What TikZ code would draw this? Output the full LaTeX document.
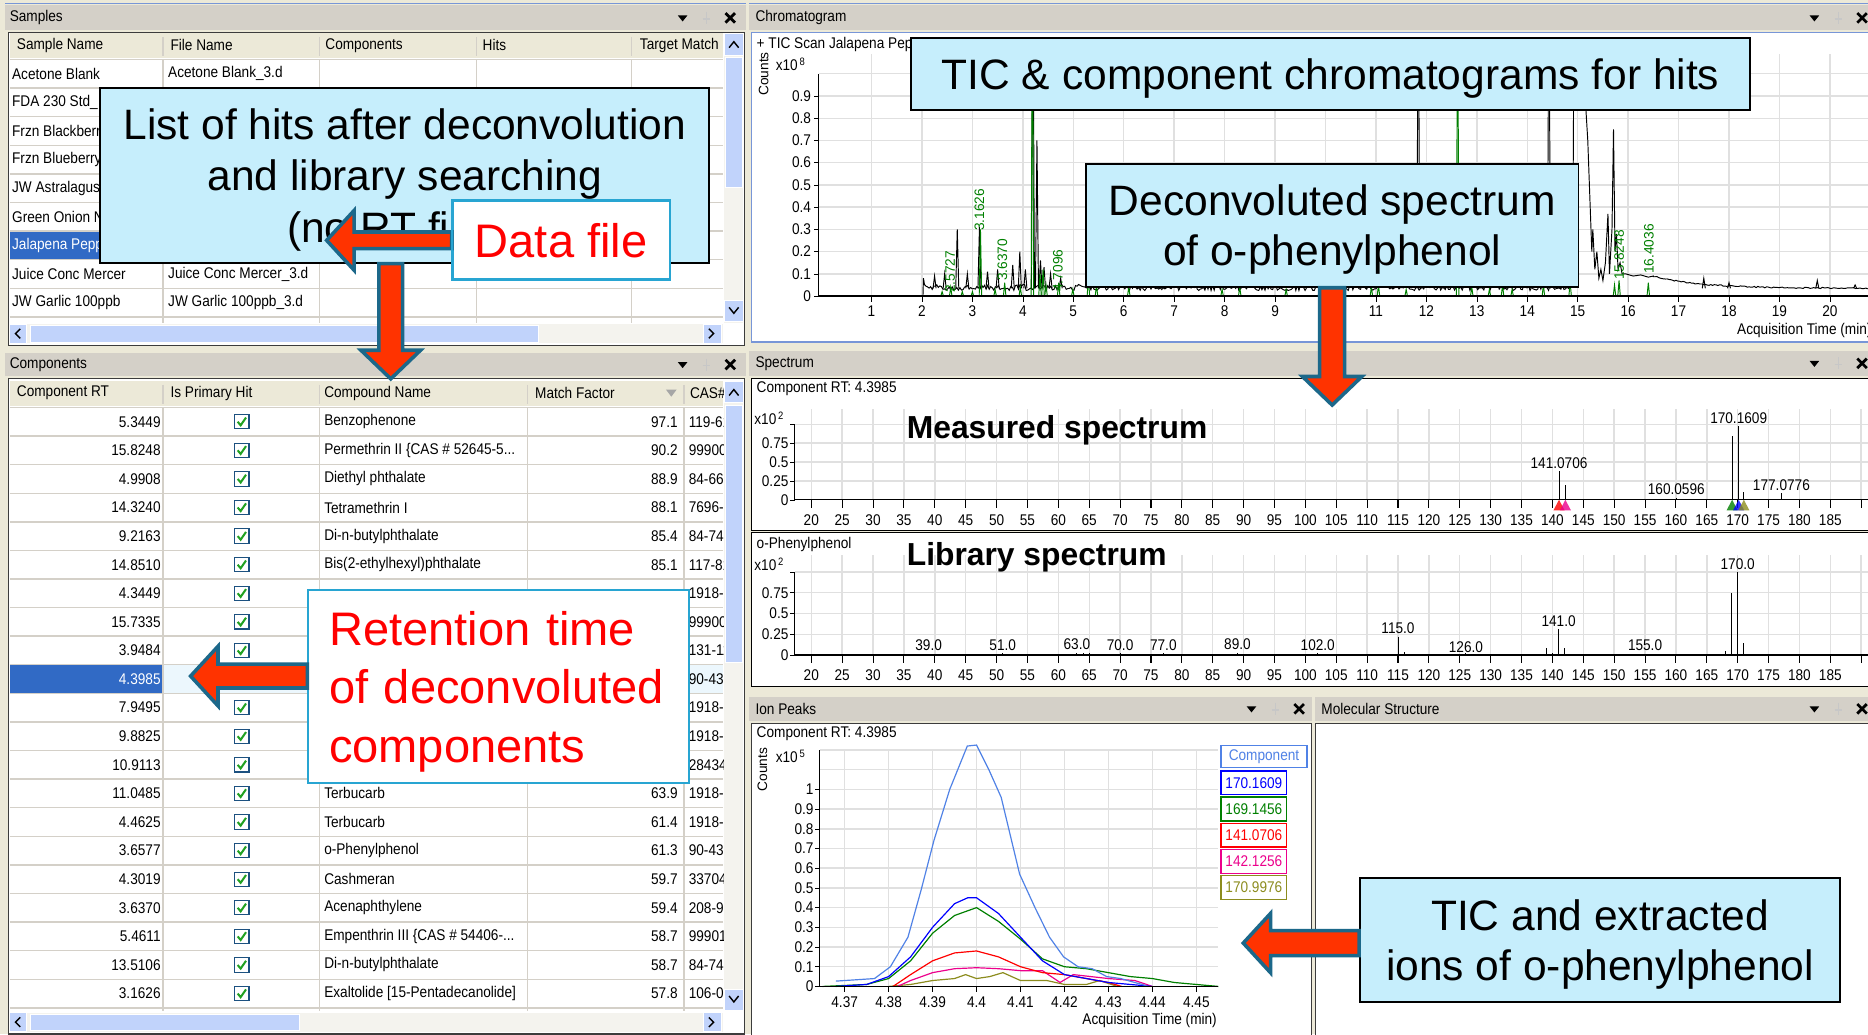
\documentclass[tikz,border=0pt]{standalone}
\usepackage{fontspec}
\setmainfont{Liberation Sans}
\newfontfamily\uifont[FakeStretch=0.88]{Liberation Sans}
\usetikzlibrary{positioning}

\definecolor{panelbg}{RGB}{236,233,216}
\definecolor{titlegray}{RGB}{212,208,200}
\definecolor{framegray}{RGB}{60,60,60}
\definecolor{frameblue}{RGB}{120,150,215}
\definecolor{gridgray}{RGB}{224,224,224}
\definecolor{rowline}{RGB}{212,208,200}
\definecolor{selblue}{RGB}{49,106,197}
\definecolor{selrow}{RGB}{236,247,253}
\definecolor{scrollthumb}{RGB}{193,211,251}
\definecolor{scrolltrack}{RGB}{244,243,238}
\definecolor{calloutblue}{RGB}{198,238,252}
\definecolor{calloutedge}{RGB}{40,165,210}
\definecolor{arrowred}{RGB}{255,51,0}
\definecolor{arrowedge}{RGB}{28,104,138}
\definecolor{chromgreen}{RGB}{0,128,0}
\definecolor{ioncomp}{RGB}{80,130,230}
\definecolor{ionolive}{RGB}{140,140,30}
\definecolor{checkgreen}{RGB}{33,161,33}
\definecolor{checkedge}{RGB}{28,81,128}

\tikzset{
  ui/.style={font=\uifont\fontsize{13}{15}\selectfont, inner sep=0pt},
  uiw/.style={ui, anchor=west},
  uie/.style={ui, anchor=east},
  pane/.style={fill=white, draw=framegray, line width=1pt},
  rowsep/.style={draw=rowline, line width=1.2pt},
  grid line/.style={draw=gridgray, line width=1.2pt},
  callout/.style={draw=black, line width=1.6pt, fill=calloutblue, inner sep=0pt, align=center, text depth=0pt,
    font=\fontsize{35.7}{43}\selectfont},
  redcallout/.style={draw=calloutedge, line width=1.6pt, fill=white, text=red, inner sep=0pt,
    font=\fontsize{39.5}{49}\selectfont},
  blockarrow/.style={draw=arrowedge, fill=arrowred, line width=3pt, line join=miter},
  rtlabel/.style={font=\fontsize{11.5}{13}\selectfont, text=chromgreen, rotate=90, anchor=west, inner sep=0pt},
  checkbox/.style={draw=checkedge, fill=white, line width=0.9pt, minimum size=12pt, inner sep=0pt},
  legendbox/.style={ui, draw, line width=1.2pt, minimum width=55pt, minimum height=20pt},
  titletext/.style={font=\bfseries\fontsize{26.7}{30}\selectfont, anchor=west, inner sep=0pt}
}

% title bar icons: #1 = x of close cross, #2 = y
\newcommand{\panelicons}[2]{%
  \fill (#1-44,#2-2) -- (#1-36,#2-2) -- (#1-40,#2+3) -- cycle;
  \draw[black!22, line width=1pt] (#1-20,#2-5) -- (#1-20,#2+1) (#1-23,#2+1) -- (#1-17,#2+1) (#1-20,#2+1) -- (#1-20,#2+5);
  \draw[line width=2.3pt] (#1-4,#2-4) -- (#1+4,#2+4) (#1-4,#2+4) -- (#1+4,#2-4);
}
\newcommand{\expo}[1]{x10\raisebox{4pt}{\fontsize{9}{9}\selectfont\,#1}}
% fat arrows: #1 tail, #2 tip, #3 half shaft
\newcommand{\blockleft}[3]{%
  \draw[blockarrow] (#2) -- ([shift={(23,-25)}]#2) -- ([shift={(23,-#3)}]#2) -- ([yshift=#3pt]#1)
    -- ([yshift=-#3pt]#1) -- ([shift={(23,#3)}]#2) -- ([shift={(23,25)}]#2) -- cycle;}
\newcommand{\blockdown}[3]{%
  \draw[blockarrow] (#2) -- ([shift={(-25,-24)}]#2) -- ([shift={(-#3,-24)}]#2) -- ([xshift=-#3pt]#1)
    -- ([xshift=#3pt]#1) -- ([shift={(#3,-24)}]#2) -- ([shift={(25,-24)}]#2) -- cycle;}

\begin{document}
\begin{tikzpicture}[x=1pt, y=-1pt]
  \useasboundingbox (0,0) rectangle (1568,868);
  \clip (0,0) rectangle (1568,868);
  \fill[panelbg] (0,0) rectangle (1568,868);

  %%% Samples panel
  \draw[frameblue, line width=1.5pt] (4,3) -- (626,3);
  \fill[titlegray] (4,4) rectangle (626,25);
  \node[uiw] (samplestitle) at (8,15) {Samples};
  \panelicons{613}{15}
  \draw[pane] (7,27) rectangle (625,290);
  \fill[panelbg] (8,28) rectangle (607,49);
  \foreach \x in {137,268,400,530} \draw[rowsep] (\x,31) -- (\x,47);
  \node[uiw] (hsname) at (14,38) {Sample Name};
  \node[uiw] (hfname) at (143,38) {File Name};
  \node[uiw] (hcomp) at (273,38) {Components};
  \node[uiw] (hhits) at (405,38) {Hits};
  \node[uiw] (htarget) at (537,38) {Target Match};
  \fill[selblue] (8,194) rectangle (137,218);
  \foreach \r in {0,...,9} \draw[rowsep] (8,50+24*\r) -- (607,50+24*\r);
  \foreach \x in {137,268,400,530} \draw[rowsep] (\x,50) -- (\x,271);
  \node[uiw] (s0) at (10,62) {Acetone Blank};
  \node[uiw] (s1) at (10,86) {FDA 230 Std\_};
  \node[uiw] (s2) at (10,110) {Frzn Blackberr};
  \node[uiw] (s3) at (10,134) {Frzn Blueberry};
  \node[uiw] (s4) at (10,158) {JW Astralagus};
  \node[uiw] (s5) at (10,182) {Green Onion N};
  \node[uiw, text=white] (s6) at (10,206) {Jalapena Pepp};
  \node[uiw] (s7) at (10,230) {Juice Conc Mercer};
  \node[uiw] (s8) at (10,254) {JW Garlic 100ppb};
  \node[uiw] (f0) at (141,62) {Acetone Blank\_3.d};
  \node[uiw] (f7) at (141,230) {Juice Conc Mercer\_3.d};
  \node[uiw] (f8) at (141,254) {JW Garlic 100ppb\_3.d};
  % scrollbars
  \fill[scrolltrack] (608,28) rectangle (624,271);
  \fill[scrollthumb, draw=white] (608,28) rectangle (624,46);
  \fill[scrollthumb, draw=white] (609,48) rectangle (623,157);
  \fill[scrollthumb, draw=white] (608,252) rectangle (624,270);
  \draw[line width=1.2pt] (612,40) -- (616,35) -- (620,40) (612,258) -- (616,263) -- (620,258);
  \fill[scrolltrack] (8,272) rectangle (607,288);
  \fill[scrollthumb, draw=white] (8,272) rectangle (22,288);
  \fill[scrollthumb, draw=white] (25,273) rectangle (452,287);
  \fill[scrollthumb, draw=white] (590,272) rectangle (605,288);
  \draw[line width=1.2pt] (17,276) -- (13,280) -- (17,284) (595,276) -- (599,280) -- (595,284);

  %%% Components panel
  \fill[titlegray] (4,296) rectangle (626,316);
  \node[uiw] (comptitle) at (8,306) {Components};
  \panelicons{613}{306}
  \draw[pane] (7,318) rectangle (625,868);
  \fill[panelbg] (8,320) rectangle (607,341);
  \foreach \x in {137,268,443,574} \draw[rowsep] (\x,323) -- (\x,339);
  \node[uiw] (hrt) at (14,330) {Component RT};
  \node[uiw] (hprim) at (143,330) {Is Primary Hit};
  \node[uiw] (hcname) at (272,330) {Compound Name};
  \node[uiw] (hmatch) at (449,330) {Match Factor};
  \fill[black!35] (559,327) -- (568,327) -- (563.5,333) -- cycle;
  \fill[selblue] (8,558) rectangle (137,582);
  \fill[selrow] (137,558) rectangle (607,582);
  \foreach \r in {0,...,21} \draw[rowsep] (8,342+24*\r) -- (607,342+24*\r);
  \foreach \x in {137,268,443,574} \draw[rowsep] (\x,342) -- (\x,849);
  \foreach \rt [count=\i from 0] in {5.3449,15.8248,4.9908,14.3240,9.2163,14.8510,4.3449,15.7335,3.9484,4.3985,
      7.9495,9.8825,10.9113,11.0485,4.4625,3.6577,4.3019,3.6370,5.4611,13.5106,3.1626} {
    \ifnum\i=9\relax\else
      \node[uie] (rt\i) at (135,354+24*\i) {\rt};
      \node[checkbox] (cb\i) at (203,354+24*\i) {};
      \draw[checkgreen, line width=1.7pt] ([shift={(-3.5,0)}]cb\i.center) -- ([shift={(-1,3)}]cb\i.center) -- ([shift={(3.5,-3.5)}]cb\i.center);
    \fi
  }
  \node[uie, text=white] (rt9) at (135,570) {4.3985};
  \node[uiw] (n0) at (272,354) {Benzophenone};
  \node[uiw] (n1) at (272,378) {Permethrin II \{CAS \# 52645-5...};
  \node[uiw] (n2) at (272,402) {Diethyl phthalate};
  \node[uiw] (n3) at (272,426) {Tetramethrin I};
  \node[uiw] (n4) at (272,450) {Di-n-butylphthalate};
  \node[uiw] (n5) at (272,474) {Bis(2-ethylhexyl)phthalate};
  \node[uiw] (n13) at (272,666) {Terbucarb};
  \node[uiw] (n14) at (272,690) {Terbucarb};
  \node[uiw] (n15) at (272,714) {o-Phenylphenol};
  \node[uiw] (n16) at (272,738) {Cashmeran};
  \node[uiw] (n17) at (272,762) {Acenaphthylene};
  \node[uiw] (n18) at (272,786) {Empenthrin III \{CAS \# 54406-...};
  \node[uiw] (n19) at (272,810) {Di-n-butylphthalate};
  \node[uiw] (n20) at (272,834) {Exaltolide [15-Pentadecanolide]};
  \foreach \mf/\r in {97.1/0,90.2/1,88.9/2,88.1/3,85.4/4,85.1/5,63.9/13,61.4/14,61.3/15,59.7/16,59.4/17,58.7/18,58.7/19,57.8/20}
    \node[uie] (mf\r) at (569,354+24*\r) {\mf};
  \begin{scope}
    \clip (575,320) rectangle (607,849);
    \node[uiw] (hcas) at (579,330) {CAS\#};
    \foreach \cas [count=\i from 0] in {119-61-9,99900-,84-66-2,7696-12,84-74-2,117-81-7,1918-11,99900-,131-11-3,
        90-43-7,1918-11,1918-11,28434-,1918-11,1918-11,90-43-7,33704-,208-96-8,99901-,84-74-2,106-02-5}
      \node[uiw] (cas\i) at (578,354+24*\i) {\cas};
  \end{scope}
  \fill[scrolltrack] (608,320) rectangle (624,849);
  \fill[scrollthumb, draw=white] (608,320) rectangle (624,338);
  \fill[scrollthumb, draw=white] (609,340) rectangle (623,556);
  \fill[scrollthumb, draw=white] (608,830) rectangle (624,848);
  \draw[line width=1.2pt] (612,332) -- (616,327) -- (620,332) (612,836) -- (616,841) -- (620,836);
  \fill[scrolltrack] (8,850) rectangle (607,866);
  \fill[scrollthumb, draw=white] (8,850) rectangle (22,866);
  \fill[scrollthumb, draw=white] (25,851) rectangle (251,865);
  \fill[scrollthumb, draw=white] (590,850) rectangle (605,866);
  \draw[line width=1.2pt] (17,854) -- (13,858) -- (17,862) (595,854) -- (599,858) -- (595,862);

  %%% Chromatogram panel
  \draw[frameblue, line width=1.5pt] (629,3) -- (1568,3);
  \fill[titlegray] (629,4) rectangle (1568,25);
  \node[uiw] (chromtitle) at (634,15) {Chromatogram};
  \panelicons{1563}{15}
  \draw[pane, draw=frameblue] (631,27) rectangle (1572,287);
  \node[uiw] (ticname) at (635,37) {+ TIC Scan Jalapena Peppers};
  \node[ui, rotate=90, font=\fontsize{11.5}{13}\selectfont] (countsA) at (641,62) {Counts};
  \node[uiw] (expA) at (651,54) {\expo{8}};
  \begin{scope}[shift={(689.2,248.5)}, x=42.34pt, y=186.6pt]
    \foreach \t in {1,...,21} \draw[grid line] (\t,0) -- (\t,1.09);
    \foreach \v in {0.1,0.2,...,1.0} \draw[grid line] (-0.05,\v) -- (21.2,\v);
    \begin{scope}
      \clip (-0.05,0) rectangle (21.2,1.09);
      \pgfmathsetseed{11}
      \draw[line width=0.8pt] (0,0) -- (2.02,0) -- (2.03,0.08)
        -- plot[domain=2.05:14.85, samples=420] (\x,{0.025+0.028*rnd})
        -- (14.9,0.06) -- (14.93,1.4) -- (14.97,1.0) -- (15.0,0.92) -- (15.04,0.86) -- (15.08,1.3)
        -- (15.12,0.9) -- (15.16,0.85) -- (15.2,0.7) -- (15.24,0.45) -- (15.28,0.2) -- (15.3,0.3)
        -- (15.34,0.12) -- (15.38,0.2) -- (15.42,0.08) -- (15.46,0.12) -- (15.5,0.07) -- (15.55,0.15)
        -- (15.6,0.37) -- (15.63,0.1) -- (15.68,0.3) -- (15.71,0.75) -- (15.74,0.2) -- (15.77,0.28)
        -- (15.8,0.12) -- (15.84,0.15) -- (15.88,0.1) -- (15.95,0.1) -- (16.1,0.09) -- (16.25,0.095)
        -- (16.4,0.085) -- (16.5,0.09)
        -- plot[domain=16.5:21.3, samples=140] (\x,{0.032+0.055*exp(-1.1*(\x-16.5))+0.006*rnd});
      \foreach \t/\h in {2.25/0.09,2.45/0.1,2.7/0.3,2.9/0.1,3.14/0.31,3.3/0.11,3.5/0.12,3.8/0.14,3.94/0.2,
          4.05/0.12,4.2/1.5,4.28/0.7,4.35/0.16,4.42/0.13,4.55/0.1,4.75/0.08,11.84/1.5,14.43/1.5,
          17.5/0.08,18.0/0.06,19.75/0.07,20.5/0.05}
        \draw[line width=0.8pt] (\t-0.03,0.035) -- (\t,\h) -- (\t+0.03,0.035);
      \foreach \t/\h in {2.4/0.02,2.57/0.04,2.8/0.02,3.0/0.02,3.16/0.3,3.45/0.03,3.64/0.06,3.95/0.04,
          4.19/1.5,4.34/0.1,4.4/0.12,4.46/0.05,4.71/0.06,4.99/0.03,5.3/0.08,5.46/0.05,6.1/0.04,
          7.95/0.03,8.3/0.04,9.22/0.03,9.88/0.03,10.2/0.02,10.91/0.04,11.05/0.05,11.6/0.03,12.62/1.5,
          12.9/0.04,13.25/0.03,13.51/0.05,13.7/0.03,14.32/0.05,14.85/0.06,15.73/0.05,15.82/0.07,16.4/0.06}
        \draw[chromgreen, line width=0.8pt] (\t-0.025,0) -- (\t,\h) -- (\t+0.025,0);
    \end{scope}
    \draw[line width=1pt] (-0.052,0) -- (21.2,0) (-0.052,0) -- (-0.052,1.0);
    \foreach \v in {0,0.1,...,1.0} \draw (-0.052,\v) -- ++(-4pt,0);
    \node[uie] (cy0) at (-0.052,0) [xshift=-6pt] {0};
    \foreach \l in {1,...,9} \node[uie] (cy\l) at (-0.052,0.\l) [xshift=-6pt] {0.\l};
    \foreach \t in {1,...,21} \draw (\t,0) -- ++(0,-5pt);
    \foreach \t in {1,...,20} \node[ui] (cx\t) at (\t,0) [yshift=-13pt] {\t};
  \end{scope}
  \node[uiw] (chromxlab) at (1458,277) {Acquisition Time (min)};
  \node[rtlabel] (rt25727) at (797.5,246) {2.5727};
  \node[rtlabel] (rt31626) at (822,194) {3.1626};
  \node[rtlabel] (rt36370) at (841.5,236) {3.6370};
  \node[rtlabel] (rt47096) at (888,245) {4.7096};
  \node[rtlabel] (rt158248) at (1359,235) {15.8248};
  \node[rtlabel] (rt164036) at (1384,230) {16.4036};

  %%% Spectrum panel
  \fill[titlegray] (629,295) rectangle (1568,316);
  \node[uiw] (spectitle) at (634,305) {Spectrum};
  \panelicons{1563}{305}
  \draw[pane, draw=black] (631,317.5) rectangle (1572,445);
  \draw[pane, draw=black] (631,447) rectangle (1572,576);
  \node[uiw] (measrt) at (635,326) {Component RT: 4.3985};
  \node[uiw] (expB) at (633,351) {\expo{2}};
  \node[uiw] (libname) at (635,457) {o-Phenylphenol};
  \node[uiw] (expC) at (633,474) {\expo{2}};
  % measured
  \begin{scope}[shift={(577.32,419.5)}, x=5.184pt, y=63.3pt]
    \foreach \m in {20,25,...,190} \draw[grid line] (\m,0) -- (\m,1.21);
    \foreach \v in {0.25,0.5,0.75,1.0} \draw[grid line] (17.3,\v) -- (195,\v);
    \foreach \m/\h in {141.07/0.38,142.1/0.2,160.06/0.03,169.1/0.85,170.16/0.98,171/0.1,177.08/0.09}
      \draw[line width=0.8pt] (\m,0) -- (\m,\h);
    \draw[line width=1pt] (17.3,0) -- (195,0) (17.3,0) -- (17.3,1.0);
    \foreach \v in {0,0.25,0.5,0.75,1.0} \draw (17.3,\v) -- ++(-4pt,0);
    \node[uie] (my0) at (17.3,0) [xshift=-5pt] {0};
    \node[uie] (my1) at (17.3,0.25) [xshift=-5pt] {0.25};
    \node[uie] (my2) at (17.3,0.5) [xshift=-5pt] {0.5};
    \node[uie] (my3) at (17.3,0.75) [xshift=-5pt] {0.75};
    \foreach \m in {20,25,...,190} \draw[line width=0.9pt] (\m,0) -- ++(0,-7pt);
    \foreach \m in {20,25,...,185} \node[ui] (mx\m) at (\m,0) [yshift=-17pt] {\m};
    \foreach \m/\c in {141.07/red,142.1/magenta,169.1/chromgreen,170.16/blue,171/ionolive}
      \fill[\c, fill opacity=0.8] (\m-0.9,-0.14) -- (\m+0.9,-0.14) -- (\m,0) -- cycle;
    \node[ui, anchor=south] (mp141) at (141.07,0.38) [yshift=2pt] {141.0706};
    \node[ui, anchor=south] (mp160) at (160.06,0.03) [yshift=2pt] {160.0596};
    \node[ui, anchor=south] (mp170) at (170.16,0.98) [yshift=2pt] {170.1609};
    \node[ui, anchor=south] (mp177) at (177.08,0.09) [yshift=2pt] {177.0776};
  \end{scope}
  \node[titletext] (meastitle) at (761,361) {Measured spectrum};
  % library
  \begin{scope}[shift={(577.32,549.8)}, x=5.184pt, y=69.7pt]
    \foreach \m in {20,25,...,190} \draw[grid line] (\m,0) -- (\m,1.2);
    \foreach \v in {0.25,0.5,0.75,1.0} \draw[grid line] (17.3,\v) -- (195,\v);
    \foreach \m/\h in {39/0.015,50/0.01,51/0.02,57/0.01,62/0.015,63/0.03,64/0.02,65/0.025,70/0.02,71/0.01,
        74/0.01,75/0.015,76/0.01,77/0.02,84/0.01,86/0.01,87/0.01,88/0.01,89/0.02,90/0.015,91/0.01,102/0.02,
        113/0.015,115/0.22,116/0.04,126/0.02,127/0.01,139/0.08,140/0.02,141/0.31,142/0.09,143/0.01,144/0.01,
        150/0.01,151/0.01,152/0.01,153/0.01,155/0.015,168/0.05,169/0.75,170/1.0,171/0.15,172/0.01}
      \draw[line width=0.8pt] (\m,0) -- (\m,\h);
    \draw[line width=1pt] (17.3,0) -- (195,0) (17.3,0) -- (17.3,1.0);
    \foreach \v in {0,0.25,0.5,0.75,1.0} \draw (17.3,\v) -- ++(-4pt,0);
    \node[uie] (ly0) at (17.3,0) [xshift=-5pt] {0};
    \node[uie] (ly1) at (17.3,0.25) [xshift=-5pt] {0.25};
    \node[uie] (ly2) at (17.3,0.5) [xshift=-5pt] {0.5};
    \node[uie] (ly3) at (17.3,0.75) [xshift=-5pt] {0.75};
    \foreach \m in {20,25,...,190} \draw[line width=0.9pt] (\m,0) -- ++(0,-7pt);
    \foreach \m in {20,25,...,185} \node[ui] (lx\m) at (\m,0) [yshift=-17pt] {\m};
    \foreach \m/\h/\l in {39/0.015/39.0,51/0.02/51.0,63/0.03/63.0,70/0.02/70.0,77/0.02/77.0,89/0.03/89.0,
        102/0.02/102.0,115/0.22/115.0,126/0.0/126.0,141/0.31/141.0,155/0.015/155.0,170/1.0/170.0}
      \node[ui, anchor=south] (lp\m) at (\m,\h) [yshift=2pt] {\l};
  \end{scope}
  \node[titletext] (libtitle) at (761,468) {Library spectrum};

  %%% Ion Peaks and Molecular Structure panels
  \fill[titlegray] (629,585) rectangle (1101,605);
  \node[uiw] (iontitle) at (634,595) {Ion Peaks};
  \panelicons{1090.5}{595}
  \fill[titlegray] (1104,585) rectangle (1568,605);
  \node[uiw] (moltitle) at (1109,595) {Molecular Structure};
  \panelicons{1563}{595}
  \draw[pane] (631,607) rectangle (1101,870);
  \draw[pane] (1104,607) rectangle (1572,870);
  \node[uiw] (ionrt) at (635,616) {Component RT: 4.3985};
  \node[ui, rotate=90, font=\fontsize{11.5}{13}\selectfont] (countsB) at (640,646) {Counts};
  \node[uiw] (expD) at (651,635) {\expo{5}};
  \begin{scope}[shift={(709,828)}, x=36.9pt, y=165.4pt]
    \foreach \t in {0,...,8} \draw[grid line] (\t,0) -- (\t,1.2);
    \foreach \v in {0.1,0.2,...,1.2} \draw[grid line] (-0.569,\v) -- (8.496,\v);
    \draw[ionolive, line width=1pt] (1.0,0.0) -- (1.5,0.01) -- (2.0,0.03) -- (2.5,0.04) -- (2.75,0.06) -- (3.0,0.04)
      -- (3.3,0.05) -- (3.6,0.07) -- (4.0,0.03) -- (4.6,0.03) -- (5.0,0.01) -- (5.5,0.01) -- (5.8,0.03) -- (6.2,0.0);
    \draw[magenta, line width=1pt] (1.2,0.0) -- (1.5,0.03) -- (2.0,0.07) -- (2.5,0.09) -- (3.0,0.095) -- (3.5,0.09)
      -- (4.0,0.08) -- (4.5,0.08) -- (4.9,0.02) -- (5.2,0.06) -- (5.6,0.05) -- (6.0,0.04) -- (6.6,0.03) -- (7.0,0.0);
    \draw[red, line width=1pt] (1.1,0.0) -- (1.5,0.06) -- (2.0,0.13) -- (2.5,0.17) -- (3.0,0.18) -- (3.5,0.15)
      -- (4.0,0.1) -- (4.5,0.07) -- (5.0,0.06) -- (5.5,0.04) -- (6.0,0.02) -- (6.3,0.0);
    \draw[chromgreen, line width=1pt] (-0.5,0.0) -- (0.5,0.01) -- (1.0,0.04) -- (1.5,0.13) -- (2.0,0.27) -- (2.5,0.36)
      -- (3.0,0.40) -- (3.5,0.33) -- (4.0,0.24) -- (4.5,0.14) -- (5.0,0.1) -- (5.5,0.09) -- (6.0,0.07)
      -- (6.5,0.05) -- (7.0,0.04) -- (7.5,0.02) -- (8.0,0.01) -- (8.5,0.0);
    \draw[blue, line width=1pt] (-0.2,0.0) -- (0.5,0.01) -- (1.0,0.05) -- (1.5,0.15) -- (2.0,0.3) -- (2.5,0.42)
      -- (2.8,0.45) -- (3.0,0.45) -- (3.5,0.37) -- (4.0,0.25) -- (4.5,0.13) -- (5.0,0.06) -- (5.5,0.04)
      -- (6.0,0.02) -- (6.5,0.01) -- (7.0,0.0);
    \draw[ioncomp, line width=1pt] (-0.2,0.027) -- (0.68,0.04) -- (1.04,0.1) -- (1.44,0.25) -- (1.74,0.49)
      -- (2.03,0.74) -- (2.39,1.0) -- (2.79,1.22) -- (3.0,1.225) -- (3.28,1.1) -- (3.56,0.96) -- (3.98,0.57)
      -- (4.33,0.4) -- (4.66,0.25) -- (4.98,0.15) -- (5.31,0.1) -- (5.63,0.09) -- (5.96,0.05) -- (6.28,0.04)
      -- (6.6,0.02) -- (6.85,0.005);
    \draw[line width=1pt] (-0.569,0) -- (8.496,0) (-0.569,0) -- (-0.569,1.2);
    \foreach \v in {0,0.1,...,1.1} \draw (-0.569,\v) -- ++(-4pt,0);
    \node[uie] (iy0) at (-0.569,0) [xshift=-5pt] {0};
    \foreach \l in {1,...,9} \node[uie] (iy\l) at (-0.569,0.\l) [xshift=-5pt] {0.\l};
    \node[uie] (iy10) at (-0.569,1) [xshift=-5pt] {1};
    \foreach \t/\l in {0/4.37,1/4.38,2/4.39,3/4.4,4/4.41,5/4.42,6/4.43,7/4.44,8/4.45} {
      \draw (\t,0) -- ++(0,-5pt);
      \node[ui] (ix\t) at (\t,0) [yshift=-13pt] {\l};
    }
  \end{scope}
  \node[ui] (ionxlab) at (965,857) {Acquisition Time (min)};
  \node[legendbox, draw=ioncomp, text=ioncomp, minimum width=72pt, minimum height=18pt] (legcomp) at (1061,635) {Component};
  \node[legendbox, draw=blue, text=blue] (leg1) at (1052.5,657) {170.1609};
  \node[legendbox, draw=chromgreen, text=chromgreen] (leg2) at (1052.5,679) {169.1456};
  \node[legendbox, draw=red, text=red] (leg3) at (1052.5,701) {141.0706};
  \node[legendbox, draw=magenta, text=magenta] (leg4) at (1052.5,723) {142.1256};
  \node[legendbox, draw=ionolive, text=ionolive] (leg5) at (1052.5,745) {170.9976};

  %%% callouts
  \node[callout, minimum width=704.5pt, minimum height=60.3pt] (ticbox) at (1116.75,62.15)
    {TIC \& component chromatograms for hits};
  \node[callout, minimum width=413.6pt, minimum height=103pt, font=\fontsize{35.7}{42}\selectfont] (deconv) at (1118.2,189.2)
    {Deconvoluted spectrum\\of o-phenylphenol};
  \coordinate (spectip) at (1118.2,340);
  \blockdown{deconv.south}{spectip}{10.5}

  \node[callout, minimum width=511.1pt, minimum height=146.4pt] (hitlist) at (339.85,147.3)
    {List of hits after deconvolution\\and library searching\\(no RT filter)};
  \coordinate (comptip) at (328,318);
  \coordinate (listfoot) at (hitlist.south -| comptip);
  \blockdown{listfoot}{comptip}{10}
  \node[redcallout, minimum width=182pt, minimum height=65.5pt] (datafile) at (471,201.75) {Data file};
  \coordinate (dftip) at ([xshift=-105pt]datafile.west);
  \blockleft{datafile.west}{dftip}{7}
  \draw[calloutedge, line width=1.6pt] (datafile.north west) rectangle (datafile.south east);

  \node[redcallout, minimum width=319.8pt, minimum height=162.2pt, align=left, text width=285pt] (rtbox) at (418.7,576.4)
    {\rule{0pt}{37pt}Retention time\\of deconvoluted\\components};
  \coordinate (rtcell) at (160,567.5);
  \coordinate (rttail) at (rtbox.west |- rtcell);
  \blockleft{rttail}{rtcell}{10}

  \node[callout, minimum width=403.1pt, minimum height=104.1pt, font=\fontsize{35.7}{42}\selectfont] (ionbox) at (1343.15,788.75)
    {TIC and extracted\\ions of o-phenylphenol};
  \coordinate (iontip) at (1043.6,791.6);
  \coordinate (iontail) at (ionbox.west |- iontip);
  \blockleft{iontail}{iontip}{10.5}
\end{tikzpicture}
\end{document}
